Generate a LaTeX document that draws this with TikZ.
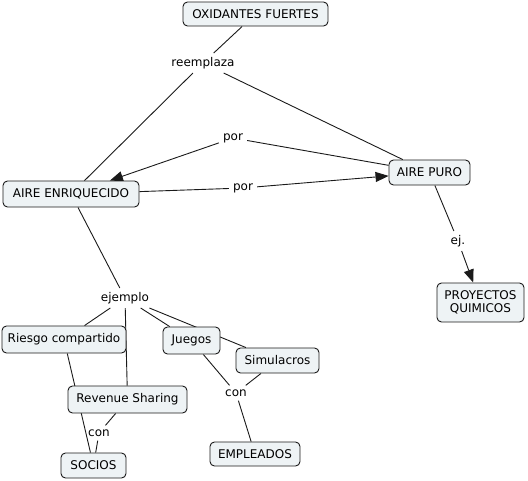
\documentclass[tikz,border=0pt]{standalone}
\usepackage{fontspec}
\setmainfont{DejaVu Sans}
\usetikzlibrary{arrows.meta,backgrounds}
\definecolor{boxfill}{HTML}{EEF3F5}
\definecolor{linec}{HTML}{1A1A1A}
\begin{document}
\begin{tikzpicture}[x=1pt,y=-1pt,
  every node/.style={font=\fontsize{12}{14}\selectfont, text=black},
  concept/.style={draw=linec, line width=0.9pt, rounded corners=4.5pt, fill=boxfill, inner sep=0pt, align=center},
  linklabel/.style={inner sep=4pt},
  conn/.style={draw=linec, line width=0.9pt},
  arr/.style={conn, -{Triangle[length=13pt,width=10pt]}}]
\useasboundingbox (0,0) rectangle (528,480);
% concepts
\node[concept, minimum width=145pt, minimum height=24pt] (ox) at (255.5,14) {OXIDANTES FUERTES};
\node[concept, minimum width=136pt, minimum height=26pt] (ae) at (71,194) {AIRE ENRIQUECIDO};
\node[concept, minimum width=81pt, minimum height=25pt] (ap) at (429.5,172.5) {AIRE PURO};
\node[concept, minimum width=87pt, minimum height=39pt] (pq) at (480.5,302.5) {PROYECTOS\\[-1pt]QUIMICOS};
\node[concept, minimum width=124pt, minimum height=27pt] (rc) at (64,339.5) {Riesgo compartido};
\node[concept, minimum width=57pt, minimum height=27pt] (ju) at (191.5,340.5) {Juegos};
\node[concept, minimum width=83pt, minimum height=25pt] (si) at (277.5,360.5) {Simulacros};
\node[concept, minimum width=119pt, minimum height=27pt] (rs) at (127.5,399.5) {Revenue Sharing};
\node[concept, minimum width=65pt, minimum height=25pt] (so) at (93.5,465.5) {SOCIOS};
\node[concept, minimum width=90pt, minimum height=24pt] (em) at (255,454) {EMPLEADOS};
% link labels
\node[linklabel] (reem) at (203,63) {reemplaza};
\node[linklabel] (por1) at (233,138) {por};
\node[linklabel] (por2) at (243,188) {por};
\node[linklabel] (ej) at (458,241) {ej.};
\node[linklabel] (ejem) at (125,298) {ejemplo};
\node[linklabel] (con1) at (236,393) {con};
\node[linklabel] (con2) at (99,433) {con};
% connectors
\begin{scope}[on background layer]
\draw[conn] (ox) -- (reem);
\draw[conn] (reem) -- (ae);
\draw[conn] (reem) -- (ap);
\draw[conn] (ap) -- (por1);
\draw[arr] (por1) -- (ae);
\draw[conn] (ae) -- (por2);
\draw[arr] (por2) -- (ap);
\draw[conn] (ap) -- (ej);
\draw[arr] (ej) -- (pq);
\draw[conn] (ae) -- (ejem);
\draw[conn] (ejem) -- (rc);
\draw[conn] (ejem) -- (rs);
\draw[conn] (ejem) -- (ju);
\draw[conn] (ejem) -- (si);
\draw[conn] (ju) -- (con1);
\draw[conn] (si) -- (con1);
\draw[conn] (con1) -- (em);
\draw[conn] (rc) -- (so);
\draw[conn] (rs) -- (con2);
\draw[conn] (con2) -- (so);
\end{scope}
\end{tikzpicture}
\end{document}
